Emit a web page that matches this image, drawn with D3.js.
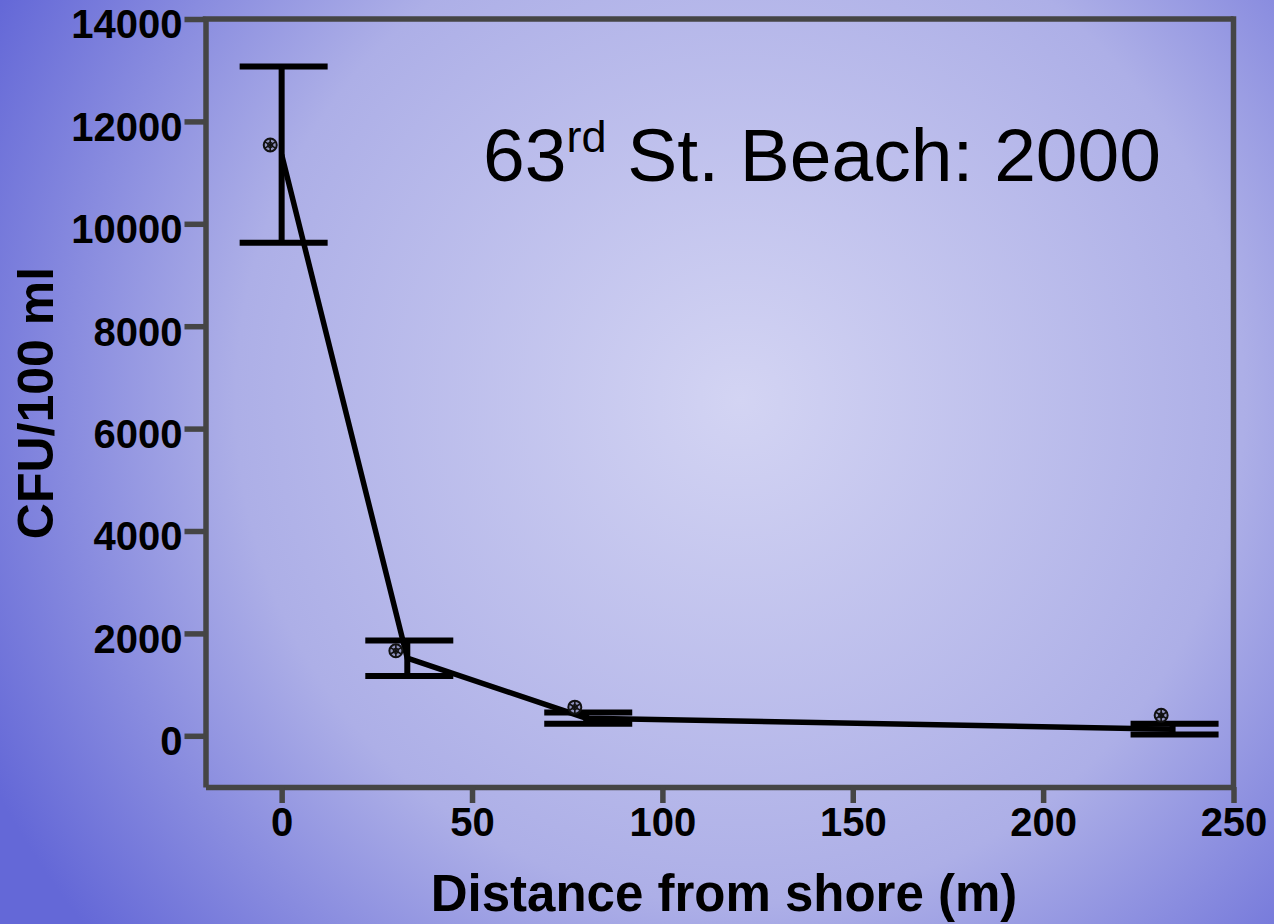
<!DOCTYPE html>
<html>
<head>
<meta charset="utf-8">
<script src="https://cdn.jsdelivr.net/npm/d3@7"></script>
<style>
  body { margin: 0; }
  svg { display: block; }
</style>
</head>
<body>
<svg id="chart"></svg>
<script>
// distance from shore (m) and CFU/100 ml
const distances = [0, 33, 80, 234];
const means = [11350, 1515, 345, 130];
const errors = [1720, 345, 110, 105];
// single observations drawn as small markers
const sampleX = [-3, 30, 77, 231];
const sampleY = [11540, 1660, 560, 400];

const xTicks = [0, 50, 100, 150, 200, 250];
const yTicks = [0, 2000, 4000, 6000, 8000, 10000, 12000, 14000];

const W = 1274, H = 924;
const FONT = "'Liberation Sans', Arial, sans-serif";
const AXIS_COLOR = "#454545";

const svg = d3.select("#chart").attr("width", W).attr("height", H);

// background gradient
const defs = svg.append("defs");
const grad = defs.append("radialGradient")
  .attr("id", "bg")
  .attr("gradientUnits", "userSpaceOnUse")
  .attr("cx", 740).attr("cy", 400).attr("r", 840);
grad.append("stop").attr("offset", 0).attr("stop-color", "#d3d4f3");
grad.append("stop").attr("offset", 0.6).attr("stop-color", "#adafe7");
grad.append("stop").attr("offset", 1).attr("stop-color", "#6468d7");
svg.append("rect").attr("width", W).attr("height", H).attr("fill", "url(#bg)");

// scales
const x = d3.scaleLinear().domain([-20, 250]).range([205.5, 1233.5]);
const y = d3.scaleLinear().domain([-1000, 14000]).range([787, 19]);

// axes
const yAxis = svg.append("g")
  .attr("transform", `translate(${x(-20)},0)`)
  .call(d3.axisLeft(y).tickValues(yTicks).tickFormat(d3.format("d"))
    .tickSize(21).tickSizeOuter(0).tickPadding(2));
yAxis.selectAll(".tick text").attr("dy", "0.47em");

const xAxis = svg.append("g")
  .attr("transform", `translate(0,${y(-1000)})`)
  .call(d3.axisBottom(x).tickValues(xTicks).tickFormat(d3.format("d"))
    .tickSize(16).tickSizeOuter(0).tickPadding(5));

[yAxis, xAxis].forEach(g => {
  g.select(".domain").attr("stroke", AXIS_COLOR).attr("stroke-width", 5.5);
  g.selectAll(".tick line").attr("stroke", AXIS_COLOR).attr("stroke-width", 5.5);
  g.selectAll(".tick text")
    .attr("fill", "#000")
    .style("font-family", FONT)
    .style("font-size", "40px")
    .style("font-weight", "bold");
});

// top and right frame lines
svg.append("line")
  .attr("x1", x(-20) - 2.75).attr("x2", x(250))
  .attr("y1", y(14000)).attr("y2", y(14000))
  .attr("stroke", AXIS_COLOR).attr("stroke-width", 5.5);
svg.append("line")
  .attr("x1", x(250)).attr("x2", x(250))
  .attr("y1", y(14000) - 2.75).attr("y2", y(-1000))
  .attr("stroke", AXIS_COLOR).attr("stroke-width", 5.5);

const data = distances.map((d, i) => ({ d, m: means[i], e: errors[i] }));

// connecting line through the means
svg.append("path")
  .datum(data)
  .attr("fill", "none")
  .attr("stroke", "#000")
  .attr("stroke-width", 5.5)
  .attr("d", d3.line().x(p => x(p.d)).y(p => y(p.m)));

// error bars
const capHalf = 44;
const bars = svg.append("g").selectAll("g").data(data).join("g");
bars.append("line")
  .attr("x1", p => x(p.d)).attr("x2", p => x(p.d))
  .attr("y1", p => y(p.m + p.e)).attr("y2", p => y(p.m - p.e))
  .attr("stroke", "#000").attr("stroke-width", 6);
bars.selectAll(".cap")
  .data(p => [p.m + p.e, p.m - p.e].map(v => ({ d: p.d, v })))
  .join("line")
  .attr("class", "cap")
  .attr("x1", c => x(c.d) - capHalf + 2).attr("x2", c => x(c.d) + capHalf + 2)
  .attr("y1", c => y(c.v)).attr("y2", c => y(c.v))
  .attr("stroke", "#000").attr("stroke-width", 6);

// small markers
const markers = svg.append("g").selectAll("g")
  .data(sampleX.map((v, i) => ({ d: v, v: sampleY[i] })))
  .join("g")
  .attr("transform", p => `translate(${x(p.d)},${y(p.v)})`);
markers.append("circle")
  .attr("r", 6.5)
  .attr("fill", "#8e90bc")
  .attr("stroke", "#111")
  .attr("stroke-width", 2);
markers.append("path")
  .attr("d", d3.symbol(d3.symbolAsterisk, 110)())
  .attr("stroke", "#111")
  .attr("stroke-width", 1.6)
  .attr("fill", "none");
markers.append("circle")
  .attr("r", 2.5)
  .attr("fill", "none")
  .attr("stroke", "#111")
  .attr("stroke-width", 1.2);

// title
const title = svg.append("text")
  .attr("x", 483).attr("y", 181)
  .style("font-family", FONT)
  .style("font-size", "75px")
  .attr("fill", "#000");
title.append("tspan").text("63");
title.append("tspan").attr("dy", -29).style("font-size", "45px").text("rd");
title.append("tspan").attr("dy", 29).text(" St. Beach: 2000");

// axis titles
svg.append("text")
  .attr("x", 724).attr("y", 911)
  .attr("text-anchor", "middle")
  .style("font-family", FONT)
  .style("font-size", "51px")
  .style("font-weight", "bold")
  .text("Distance from shore (m)");

svg.append("text")
  .attr("transform", "translate(53,403) rotate(-90)")
  .attr("text-anchor", "middle")
  .style("font-family", FONT)
  .style("font-size", "50px")
  .style("font-weight", "bold")
  .text("CFU/100 ml");
</script>
</body>
</html>
